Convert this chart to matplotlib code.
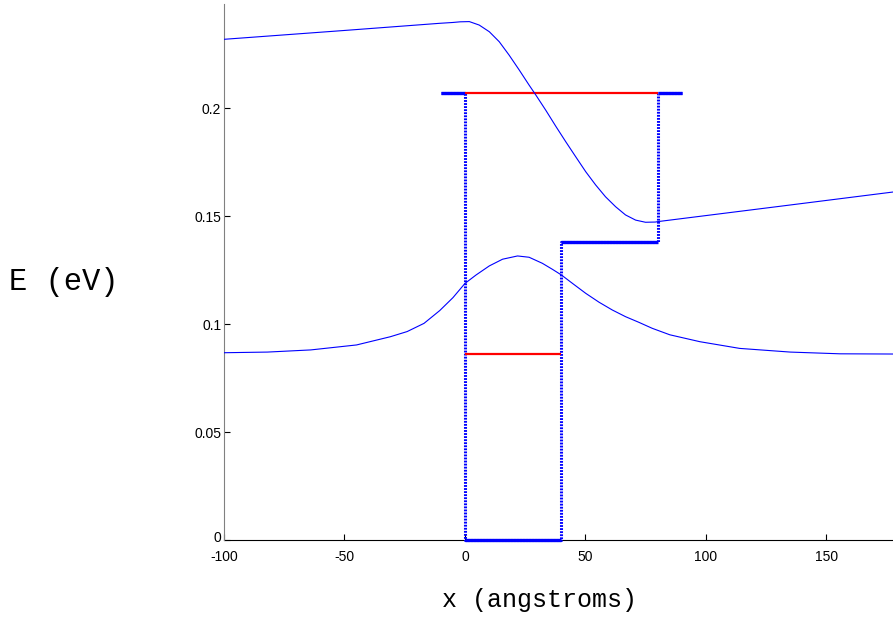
import matplotlib
matplotlib.use("Agg")
import matplotlib.pyplot as plt
from matplotlib.transforms import ScaledTranslation

# Potential profile (step)
pot_x = [-10, 0, 0, 40, 40, 80, 80, 90]
pot_y = [0.207, 0.207, 0.0, 0.0, 0.138, 0.138, 0.207, 0.207]

# Energy levels: (energy, x_start, x_end)
level_E = [0.0862, 0.2068]
level_x0 = [0, 0]
level_x1 = [40, 80]

# Upper state curve
up_x = [-100, -50, -10.6, -5, -2, 1.8, 5.9, 10.1, 14.2, 18.3, 22.5, 26.6, 29.4,
        33.5, 37.7, 41.8, 45.9, 50.1, 54.2, 58.3, 62.5, 66.6, 70.8, 74.9, 79,
        80, 130, 177.6]
up_y = [0.2318, 0.2359, 0.2392, 0.2396, 0.2399, 0.2400, 0.2384, 0.2353, 0.2307,
        0.2245, 0.2176, 0.2106, 0.2060, 0.1990, 0.1915, 0.1844, 0.1775, 0.1705,
        0.1644, 0.1589, 0.1543, 0.1505, 0.1481, 0.1471, 0.1472, 0.1474, 0.1544,
        0.1611]

# Lower state curve
lo_x = [-100, -82, -64, -45, -31, -24, -17, -10.5, -5, 0, 4.6, 10.1, 15.6, 21.8,
        26.6, 32.1, 36.3, 40, 44.6, 50.1, 55.6, 61.1, 66.6, 72.1, 77.7, 85,
        97.5, 114, 135, 155.6, 177.6]
lo_y = [0.0867, 0.0870, 0.0880, 0.0903, 0.0941, 0.0965, 0.1003, 0.1062, 0.1122,
        0.1188, 0.1227, 0.1269, 0.1300, 0.1315, 0.1309, 0.1281, 0.1253, 0.1227,
        0.1188, 0.1142, 0.1101, 0.1065, 0.1034, 0.1008, 0.0980, 0.0950, 0.0918,
        0.0887, 0.0870, 0.0862, 0.0861]

xticks = [-100, -50, 0, 50, 100, 150]
yticks = [0, 0.05, 0.1, 0.15, 0.2]
ytick_labels = ["0", "0.05", "0.1", "0.15", "0.2"]

W, H = 893, 617
fig = plt.figure(figsize=(W / 100, H / 100), dpi=100)
ax = fig.add_axes([224 / W, 1 - 540 / H, (893 - 224) / W, 0.248 * 2160 / H])

blue = (0, 0, 1)
red = (1, 0, 0)

# potential verticals (dotted look)
ax.plot(pot_x, pot_y, color=blue, lw=2.2, ls=(0, (0.6, 0.4)), zorder=2,
        clip_on=False)
# potential horizontals (solid)
for i in range(len(pot_x) - 1):
    if pot_y[i] == pot_y[i + 1]:
        ax.plot(pot_x[i:i + 2], pot_y[i:i + 2], color=blue, lw=2.4,
                solid_capstyle="butt", zorder=3, clip_on=False)

for E, a, b in zip(level_E, level_x0, level_x1):
    ax.plot([a, b], [E, E], color=red, lw=1.6, solid_capstyle="butt", zorder=3)

ax.plot(up_x, up_y, color=blue, lw=0.8, zorder=4)
ax.plot(lo_x, lo_y, color=blue, lw=0.8, zorder=4)

ax.set_xlim(-100, 177.6)
ax.set_ylim(0, 0.248)
ax.set_xticks(xticks)
ax.set_xticklabels([str(t) for t in xticks])
ax.set_yticks(yticks)
ax.set_yticklabels(ytick_labels)

for s in ["top", "right"]:
    ax.spines[s].set_visible(False)
ax.spines["left"].set_color((0.5, 0.5, 0.5))
ax.spines["bottom"].set_color("black")
ax.spines["bottom"].set_zorder(1)
ax.tick_params(direction="in", length=4, width=0.8, labelsize=10)
ax.tick_params(axis="x", pad=7)
ax.tick_params(axis="y", pad=2)
for lab in ax.get_xticklabels() + ax.get_yticklabels():
    lab.set_family("Liberation Sans")
zero_lab = ax.get_yticklabels()[0]
zero_lab.set_transform(zero_lab.get_transform() +
                       ScaledTranslation(0, 3 / 100, fig.dpi_scale_trans))

fig.text(540 / W, 1 - 600 / H, "x (angstroms)", family="Liberation Mono",
         fontsize=18, ha="center", va="center")
fig.text(64 / W, 1 - 282 / H, "E (eV)", family="Liberation Mono",
         fontsize=22, ha="center", va="center")

fig.savefig("out.png", dpi=100)
